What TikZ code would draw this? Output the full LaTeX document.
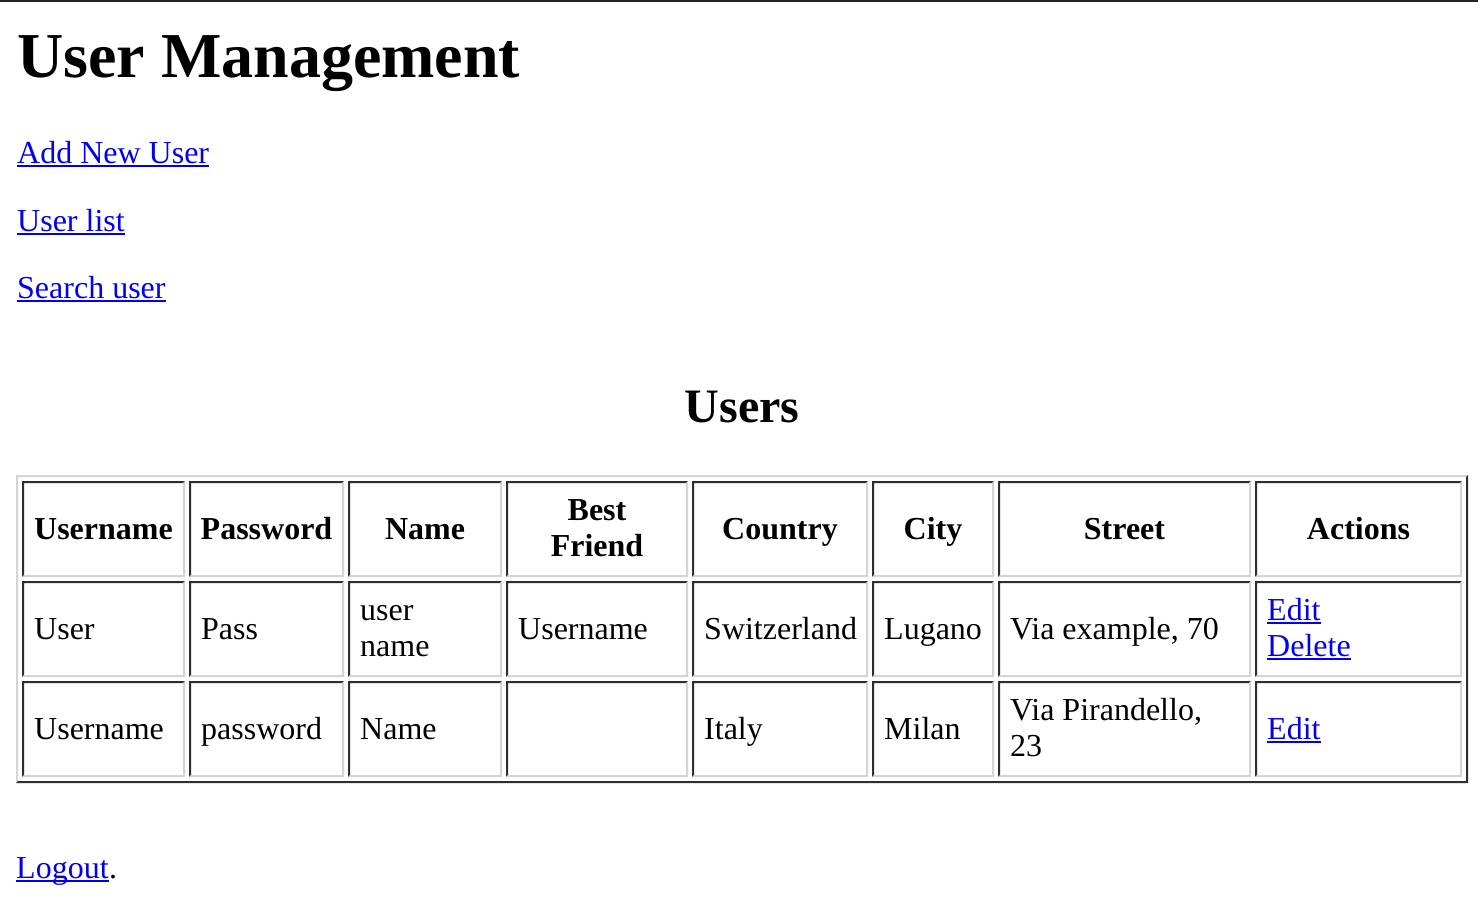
\documentclass[tikz,border=0pt]{standalone}
\usepackage{fontspec}
\setmainfont{Liberation Serif}
\definecolor{linkblue}{HTML}{0000EE}
\definecolor{bdark}{HTML}{2E2E2E}
\definecolor{blight}{HTML}{D4D4D4}
\definecolor{topline}{HTML}{222222}
% inset (cell) border: dark top/left, light bottom/right
\newcommand\htcell[4]{%
  \fill[bdark] (#1,#2) -- (#3,#2) -- ({#3-2},{#2+2}) -- ({#1+2},{#2+2}) -- ({#1+2},{#4-2}) -- (#1,#4) -- cycle;
  \fill[blight] (#3,#2) -- (#3,#4) -- (#1,#4) -- ({#1+2},{#4-2}) -- ({#3-2},{#4-2}) -- ({#3-2},{#2+2}) -- cycle;}
% outset (table) border: light top/left, dark bottom/right
\newcommand\httable[4]{%
  \fill[blight] (#1,#2) -- (#3,#2) -- ({#3-2},{#2+2}) -- ({#1+2},{#2+2}) -- ({#1+2},{#4-2}) -- (#1,#4) -- cycle;
  \fill[bdark] (#3,#2) -- (#3,#4) -- (#1,#4) -- ({#1+2},{#4-2}) -- ({#3-2},{#4-2}) -- ({#3-2},{#2+2}) -- cycle;}
\newcommand\ulink[1]{\draw[linkblue, line width=2pt] ([yshift=-3pt]#1.base west) -- ([yshift=-3pt]#1.base east);}
\begin{document}
\begin{tikzpicture}[x=1pt, y=-1pt,
  txt/.style={inner sep=0, anchor=base west, font=\fontsize{32}{36}\selectfont},
  hdr/.style={inner sep=0, anchor=base, font=\bfseries\fontsize{32}{36}\selectfont},
  lnk/.style={txt, text=linkblue},
  h1/.style={inner sep=0, anchor=base west, font=\bfseries\fontsize{64}{72}\selectfont},
  h2/.style={inner sep=0, anchor=base, font=\bfseries\fontsize{48}{54}\selectfont}]
\useasboundingbox (0,0) rectangle (1478,908);
\fill[white] (0,0) rectangle (1478,908);
\fill[topline] (0,0) rectangle (1478,2);

\node[h1] (title) at (17,77) {User Management};

\node[lnk] (addnew) at (17,163) {Add New User};
\ulink{addnew}
\node[lnk] (userlist) at (17,231) {User list};
\ulink{userlist}
\node[lnk] (search) at (17,298) {Search user};
\ulink{search}

\node[h2] (users) at (742,422) {Users};

% table
\httable{16}{475}{1468}{783}
% rows: 481-577, 581-677, 681-777
\foreach \ya/\yb in {481/577, 581/677, 681/777}{
  \foreach \xa/\xb in {22/185, 189/344, 348/502, 506/688, 692/868, 872/994, 998/1251, 1255/1462}{
    \htcell{\xa}{\ya}{\xb}{\yb}
  }
}

% header
\node[hdr] (h-user) at (103.5,539) {Username};
\node[hdr] (h-pass) at (266.5,539) {Password};
\node[hdr] (h-name) at (425,539) {Name};
\node[hdr] (h-bf1) at (597,520) {Best};
\node[hdr] (h-bf2) at (597,556) {Friend};
\node[hdr] (h-country) at (780,539) {Country};
\node[hdr] (h-city) at (933,539) {City};
\node[hdr] (h-street) at (1124.5,539) {Street};
\node[hdr] (h-actions) at (1358.5,539) {Actions};

% row 1
\node[txt] (r1-user) at (34,639) {User};
\node[txt] (r1-pass) at (201,639) {Pass};
\node[txt] (r1-name1) at (360,620) {user};
\node[txt] (r1-name2) at (360,656) {name};
\node[txt] (r1-bf) at (518,639) {Username};
\node[txt] (r1-country) at (704,639) {Switzerland};
\node[txt] (r1-city) at (884,639) {Lugano};
\node[txt] (r1-street) at (1010,639) {Via example, 70};
\node[lnk] (r1-edit) at (1267,620) {Edit};
\ulink{r1-edit}
\node[lnk] (r1-delete) at (1267,656) {Delete};
\ulink{r1-delete}

% row 2
\node[txt] (r2-user) at (34,739) {Username};
\node[txt] (r2-pass) at (201,739) {password};
\node[txt] (r2-name) at (360,739) {Name};
\node[txt] (r2-country) at (704,739) {Italy};
\node[txt] (r2-city) at (884,739) {Milan};
\node[txt] (r2-street1) at (1010,720) {Via Pirandello,};
\node[txt] (r2-street2) at (1010,756) {23};
\node[lnk] (r2-edit) at (1267,739) {Edit};
\ulink{r2-edit}

% footer
\node[lnk] (logout) at (16,878) {Logout};
\ulink{logout}
\node[txt, anchor=base west] (dot) at (logout.base east) {.};
\end{tikzpicture}
\end{document}
